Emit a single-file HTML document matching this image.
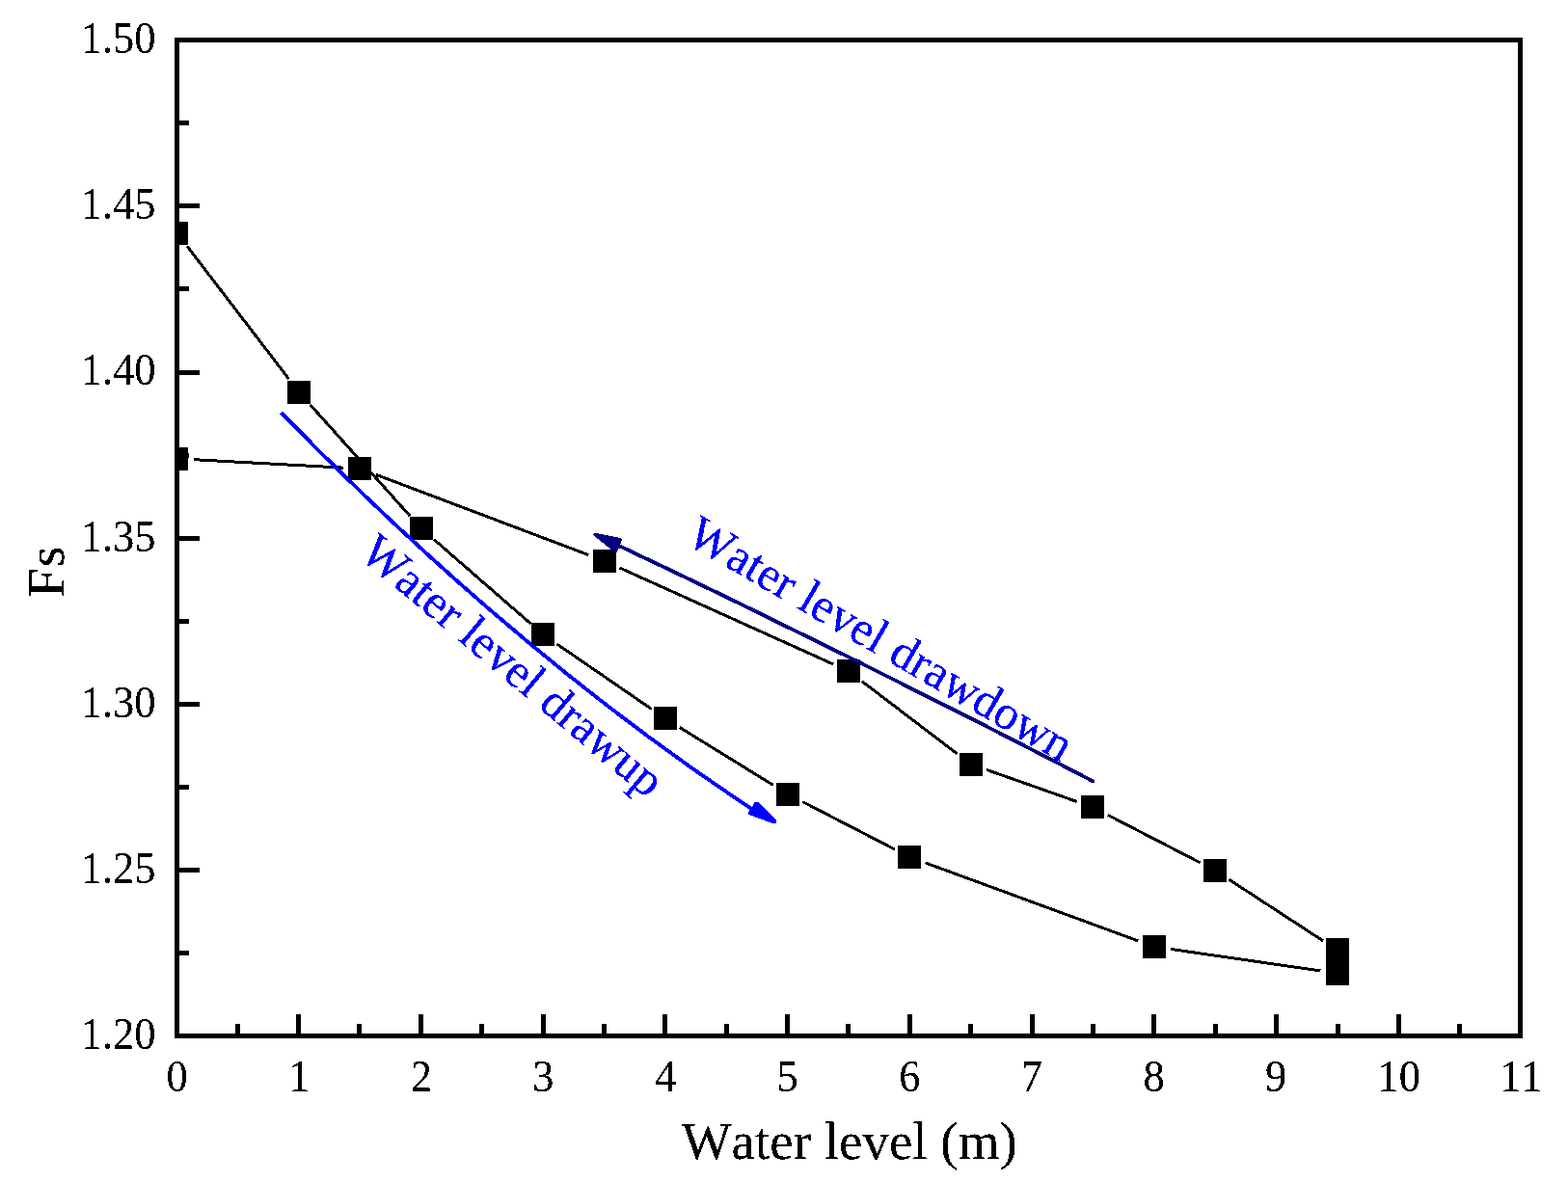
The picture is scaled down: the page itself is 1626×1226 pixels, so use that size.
<!DOCTYPE html>
<html lang="en">
<head>
<meta charset="utf-8">
<title>Fs versus water level</title>
<style>
html,body{margin:0;padding:0;background:#fff;}
body{width:1626px;height:1226px;overflow:hidden;}
svg{display:block;}
text{font-family:"Liberation Serif",serif;font-kerning:none;font-variant-ligatures:none;filter:url(#hard);}
</style>
</head>
<body>
<svg width="1626" height="1226" viewBox="0 0 1626 1226">
<rect x="0" y="0" width="1626" height="1226" fill="#ffffff"/>
<defs><filter id="hard" x="-5%" y="-20%" width="110%" height="140%" color-interpolation-filters="sRGB"><feComponentTransfer><feFuncA type="discrete" tableValues="0 0 1 1 1"/></feComponentTransfer></filter></defs>
<defs><clipPath id="plot"><rect x="181.00" y="39.00" width="1398.00" height="1038.00"/></clipPath></defs>
<!-- data series: connecting lines -->
<g stroke="#000" stroke-width="3.00" stroke-linecap="butt" fill="none" shape-rendering="crispEdges">
<line x1="194.08" y1="255.43" x2="299.55" y2="393.08"/>
<line x1="321.75" y1="419.85" x2="425.15" y2="535.12"/>
<line x1="449.90" y1="559.49" x2="550.28" y2="646.84"/>
<line x1="577.74" y1="668.12" x2="675.71" y2="735.51"/>
<line x1="704.85" y1="754.51" x2="801.88" y2="814.40"/>
<line x1="832.14" y1="831.52" x2="927.86" y2="880.97"/>
<line x1="959.65" y1="894.96" x2="1180.26" y2="975.93"/>
<line x1="1213.81" y1="984.43" x2="1369.33" y2="1006.98"/>
<line x1="1371.97" y1="975.86" x2="1274.48" y2="912.24"/>
<line x1="1244.45" y1="894.75" x2="1148.73" y2="845.30"/>
<line x1="1116.87" y1="831.51" x2="1023.04" y2="798.35"/>
<line x1="992.79" y1="782.01" x2="893.84" y2="706.67"/>
<line x1="864.14" y1="688.97" x2="642.59" y2="588.97"/>
<line x1="610.45" y1="575.66" x2="389.73" y2="492.24"/>
<line x1="356.08" y1="485.15" x2="200.87" y2="476.70"/>
</g>
<!-- data series: square markers -->
<g fill="#000" clip-path="url(#plot)" shape-rendering="crispEdges">
<rect x="171" y="230" width="24" height="24"/>
<rect x="298" y="395" width="24" height="24"/>
<rect x="425" y="536" width="24" height="24"/>
<rect x="551" y="646" width="24" height="24"/>
<rect x="678" y="733" width="24" height="24"/>
<rect x="805" y="812" width="24" height="24"/>
<rect x="931" y="877" width="24" height="24"/>
<rect x="1185" y="970" width="24" height="24"/>
<rect x="1375" y="998" width="24" height="24"/>
<rect x="1375" y="973" width="24" height="25"/>
<rect x="1248" y="891" width="24" height="24"/>
<rect x="1121" y="825" width="24" height="24"/>
<rect x="995" y="781" width="24" height="24"/>
<rect x="868" y="684" width="24" height="24"/>
<rect x="615" y="570" width="24" height="24"/>
<rect x="361" y="474" width="24" height="24"/>
<rect x="171" y="464" width="24" height="24"/>
</g>
<!-- annotations -->
<g id="anno" shape-rendering="crispEdges">
<path d="M291.4,427.8 Q535.9,678.8 781.0,840.0" fill="none" stroke="#0000ff" stroke-width="3.90" stroke-linecap="butt"/>
<polygon points="783.0,831.6 785.6,831.6 805.2,850.4 805.2,853.9 801.0,853.9 775.8,844.8 775.8,843.2" fill="#0000ff"/>
<path d="M1133.5,810.4 Q886.9,681.9 640.5,565.4" fill="none" stroke="#000080" stroke-width="3.90" stroke-linecap="round"/>
<polygon points="616.2,552.6 614.7,554.6 637.3,573.0 639.8,573.0 645.1,560.0 644.0,558.0" fill="#000080"/>
<text id="tup" transform="translate(371.2,577.0) rotate(40.0)" font-size="49.7px" fill="#0000ff">Water level drawup</text>
<text id="tdn" transform="translate(709.8,562.6) rotate(30.3)" font-size="49.7px" fill="#0000ff">Water level drawdown</text>
</g>
<!-- axes frame -->
<rect x="183.50" y="41.50" width="1393.00" height="1033.00" fill="none" stroke="#000" stroke-width="5.00" shape-rendering="crispEdges"/>
<!-- ticks -->
<g fill="#000" shape-rendering="crispEdges">
<rect x="244" y="1062" width="5" height="11"/>
<rect x="307" y="1052" width="5" height="21"/>
<rect x="370" y="1062" width="5" height="11"/>
<rect x="434" y="1052" width="5" height="21"/>
<rect x="497" y="1062" width="5" height="11"/>
<rect x="561" y="1052" width="5" height="21"/>
<rect x="624" y="1062" width="5" height="11"/>
<rect x="687" y="1052" width="5" height="21"/>
<rect x="751" y="1062" width="5" height="11"/>
<rect x="814" y="1052" width="5" height="21"/>
<rect x="877" y="1062" width="5" height="11"/>
<rect x="941" y="1052" width="5" height="21"/>
<rect x="1004" y="1062" width="5" height="11"/>
<rect x="1068" y="1052" width="5" height="21"/>
<rect x="1131" y="1062" width="5" height="11"/>
<rect x="1194" y="1052" width="5" height="21"/>
<rect x="1258" y="1062" width="5" height="11"/>
<rect x="1321" y="1052" width="5" height="21"/>
<rect x="1385" y="1062" width="5" height="11"/>
<rect x="1448" y="1052" width="5" height="21"/>
<rect x="1511" y="1062" width="5" height="11"/>
<rect x="185" y="986" width="11" height="5"/>
<rect x="185" y="900" width="22" height="5"/>
<rect x="185" y="814" width="11" height="5"/>
<rect x="185" y="728" width="22" height="5"/>
<rect x="185" y="642" width="11" height="5"/>
<rect x="185" y="556" width="22" height="5"/>
<rect x="185" y="470" width="11" height="5"/>
<rect x="185" y="384" width="22" height="5"/>
<rect x="185" y="297" width="11" height="5"/>
<rect x="185" y="211" width="22" height="5"/>
<rect x="185" y="125" width="11" height="5"/>
</g>
<!-- tick labels -->
<g font-size="44.50px" fill="#000">
<text transform="translate(183.50,1132.00) scale(1,1.045)" text-anchor="middle">0</text>
<text transform="translate(310.14,1132.00) scale(1,1.045)" text-anchor="middle">1</text>
<text transform="translate(436.77,1132.00) scale(1,1.045)" text-anchor="middle">2</text>
<text transform="translate(563.41,1132.00) scale(1,1.045)" text-anchor="middle">3</text>
<text transform="translate(690.05,1132.00) scale(1,1.045)" text-anchor="middle">4</text>
<text transform="translate(816.68,1132.00) scale(1,1.045)" text-anchor="middle">5</text>
<text transform="translate(943.32,1132.00) scale(1,1.045)" text-anchor="middle">6</text>
<text transform="translate(1069.95,1132.00) scale(1,1.045)" text-anchor="middle">7</text>
<text transform="translate(1196.59,1132.00) scale(1,1.045)" text-anchor="middle">8</text>
<text transform="translate(1323.23,1132.00) scale(1,1.045)" text-anchor="middle">9</text>
<text transform="translate(1450.86,1132.00) scale(1,1.045)" text-anchor="middle">10</text>
<text transform="translate(1577.50,1132.00) scale(1,1.045)" text-anchor="middle">11</text>
<text transform="translate(161.50,1088.00) scale(1,1.045)" text-anchor="end">1.20</text>
<text transform="translate(161.50,915.83) scale(1,1.045)" text-anchor="end">1.25</text>
<text transform="translate(161.50,743.67) scale(1,1.045)" text-anchor="end">1.30</text>
<text transform="translate(161.50,571.50) scale(1,1.045)" text-anchor="end">1.35</text>
<text transform="translate(161.50,399.33) scale(1,1.045)" text-anchor="end">1.40</text>
<text transform="translate(161.50,227.17) scale(1,1.045)" text-anchor="end">1.45</text>
<text transform="translate(161.50,55.00) scale(1,1.045)" text-anchor="end">1.50</text>
</g>
<!-- axis titles -->
<text id="xtitle" x="880.70" y="1202.40" font-size="55.00px" text-anchor="middle" fill="#000">Water level (m)</text>
<text id="ytitle" transform="translate(66.20,619.60) rotate(-90)" font-size="55.00px" text-anchor="start" letter-spacing="0.9" fill="#000">Fs</text>
</svg>
</body>
</html>
